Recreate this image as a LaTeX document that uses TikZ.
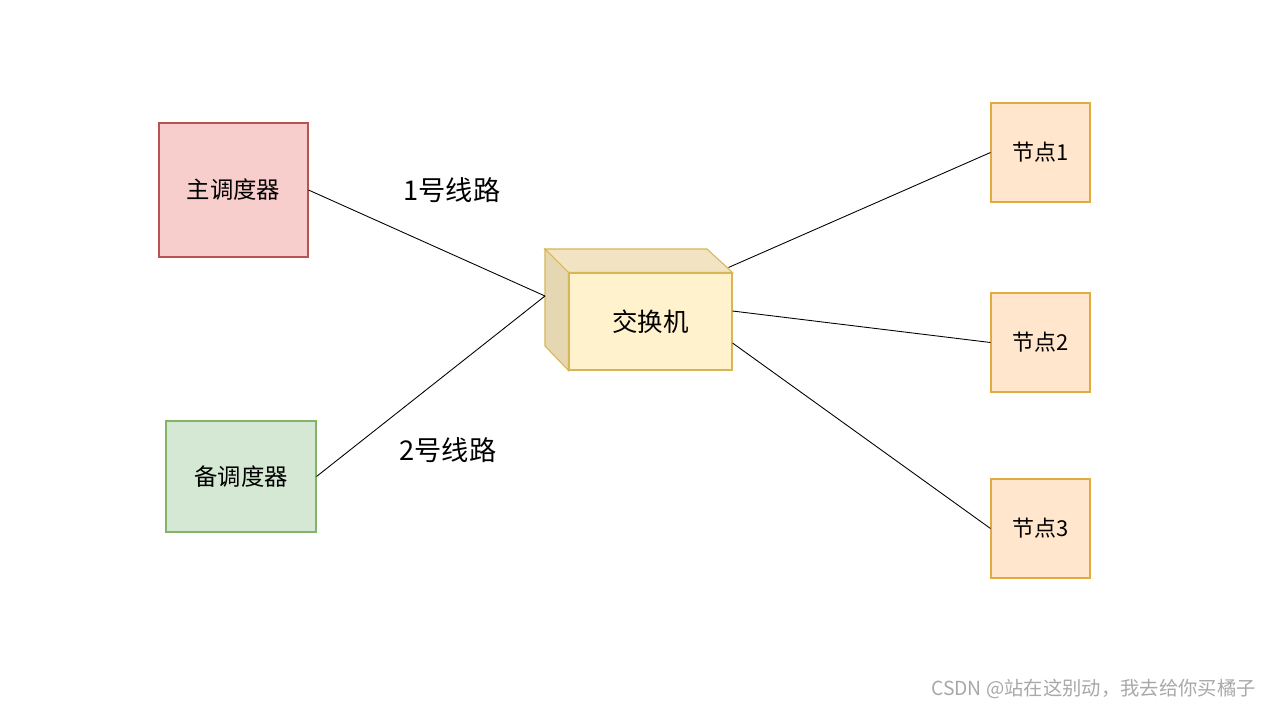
\documentclass[tikz,border=0pt]{standalone}
\usepackage{fontspec}
\setmainfont{Noto Sans CJK SC}
\usepackage{tikz}
\usetikzlibrary{positioning}
\definecolor{RedFill}{HTML}{F8CECC}
\definecolor{RedLine}{HTML}{B85450}
\definecolor{GreenFill}{HTML}{D5E8D4}
\definecolor{GreenLine}{HTML}{82B366}
\definecolor{CubeFill}{HTML}{FFF2CC}
\definecolor{CubeTop}{HTML}{F2E4C2}
\definecolor{CubeSide}{HTML}{E6D7B3}
\definecolor{CubeLine}{HTML}{D6B656}
\definecolor{NodeFill}{HTML}{FFE6CC}
\definecolor{NodeLine}{HTML}{E0AC40}
\definecolor{MarkGrey}{HTML}{A8A8A8}
\tikzset{
  box/.style={line width=0.6pt, align=center, inner sep=0pt,
              font=\fontsize{13.3}{16}\selectfont},
  endnode/.style={box, fill=NodeFill, draw=NodeLine,
                  minimum width=1.98cm, minimum height=1.98cm,
                  font=\fontsize{12.5}{15}\selectfont},
  link/.style={line width=0.5pt, color=black},
  tag/.style={font=\fontsize{15.5}{18}\selectfont}
}

\begin{document}
\begin{tikzpicture}[x=0.02cm,y=-0.02cm]
\useasboundingbox (0,0) rectangle (1276,708);

% dispatchers
\node[box, fill=RedFill, draw=RedLine, minimum width=2.98cm, minimum height=2.68cm]
  (master) at (233.5,190) {主调度器};
\node[box, fill=GreenFill, draw=GreenLine, minimum width=3cm, minimum height=2.22cm]
  (backup) at (241,476.5) {备调度器};

% switch (cube)
\node[box, fill=CubeFill, draw=CubeLine, minimum width=3.26cm, minimum height=1.94cm,
      font=\fontsize{14.5}{17}\selectfont] (switch) at (650.5,321.5) {交换机};
\coordinate (backtl) at (545,249);
\coordinate (backtr) at (707,249);
\coordinate (backbl) at (545,346);
\filldraw[fill=CubeTop, draw=CubeLine, line width=0.6pt]
  (switch.north west) -- (backtl) -- (backtr) -- (switch.north east) -- cycle;
\filldraw[fill=CubeSide, draw=CubeLine, line width=0.6pt]
  (switch.north west) -- (backtl) -- (backbl) -- (switch.south west) -- cycle;
\coordinate (hub) at (545,296);

% end nodes
\node[endnode] (n1) at (1040.5,152.5) {节点1};
\node[endnode] (n2) at (1040.5,342.5) {节点2};
\node[endnode] (n3) at (1040.5,528.5) {节点3};

% links
\draw[link] (master.east) -- (hub);
\draw[link] (backup.east) -- (hub);
\draw[link] ([xshift=-0.08cm,yshift=0.1cm]switch.north east) -- (n1.west);
\draw[link] ([yshift=0.21cm]switch.east) -- (n2.west);
\draw[link] ([yshift=-0.43cm]switch.east) -- (n3.west);

\node[tag] (line1) at (452,190) {1号线路};
\node[tag] (line2) at (448,450) {2号线路};

% watermark
\node[anchor=east, text=MarkGrey, font=\fontsize{11}{13}\selectfont]
  (mark) at (1262,689) {CSDN @站在这别动，我去给你买橘子};
\end{tikzpicture}
\end{document}
